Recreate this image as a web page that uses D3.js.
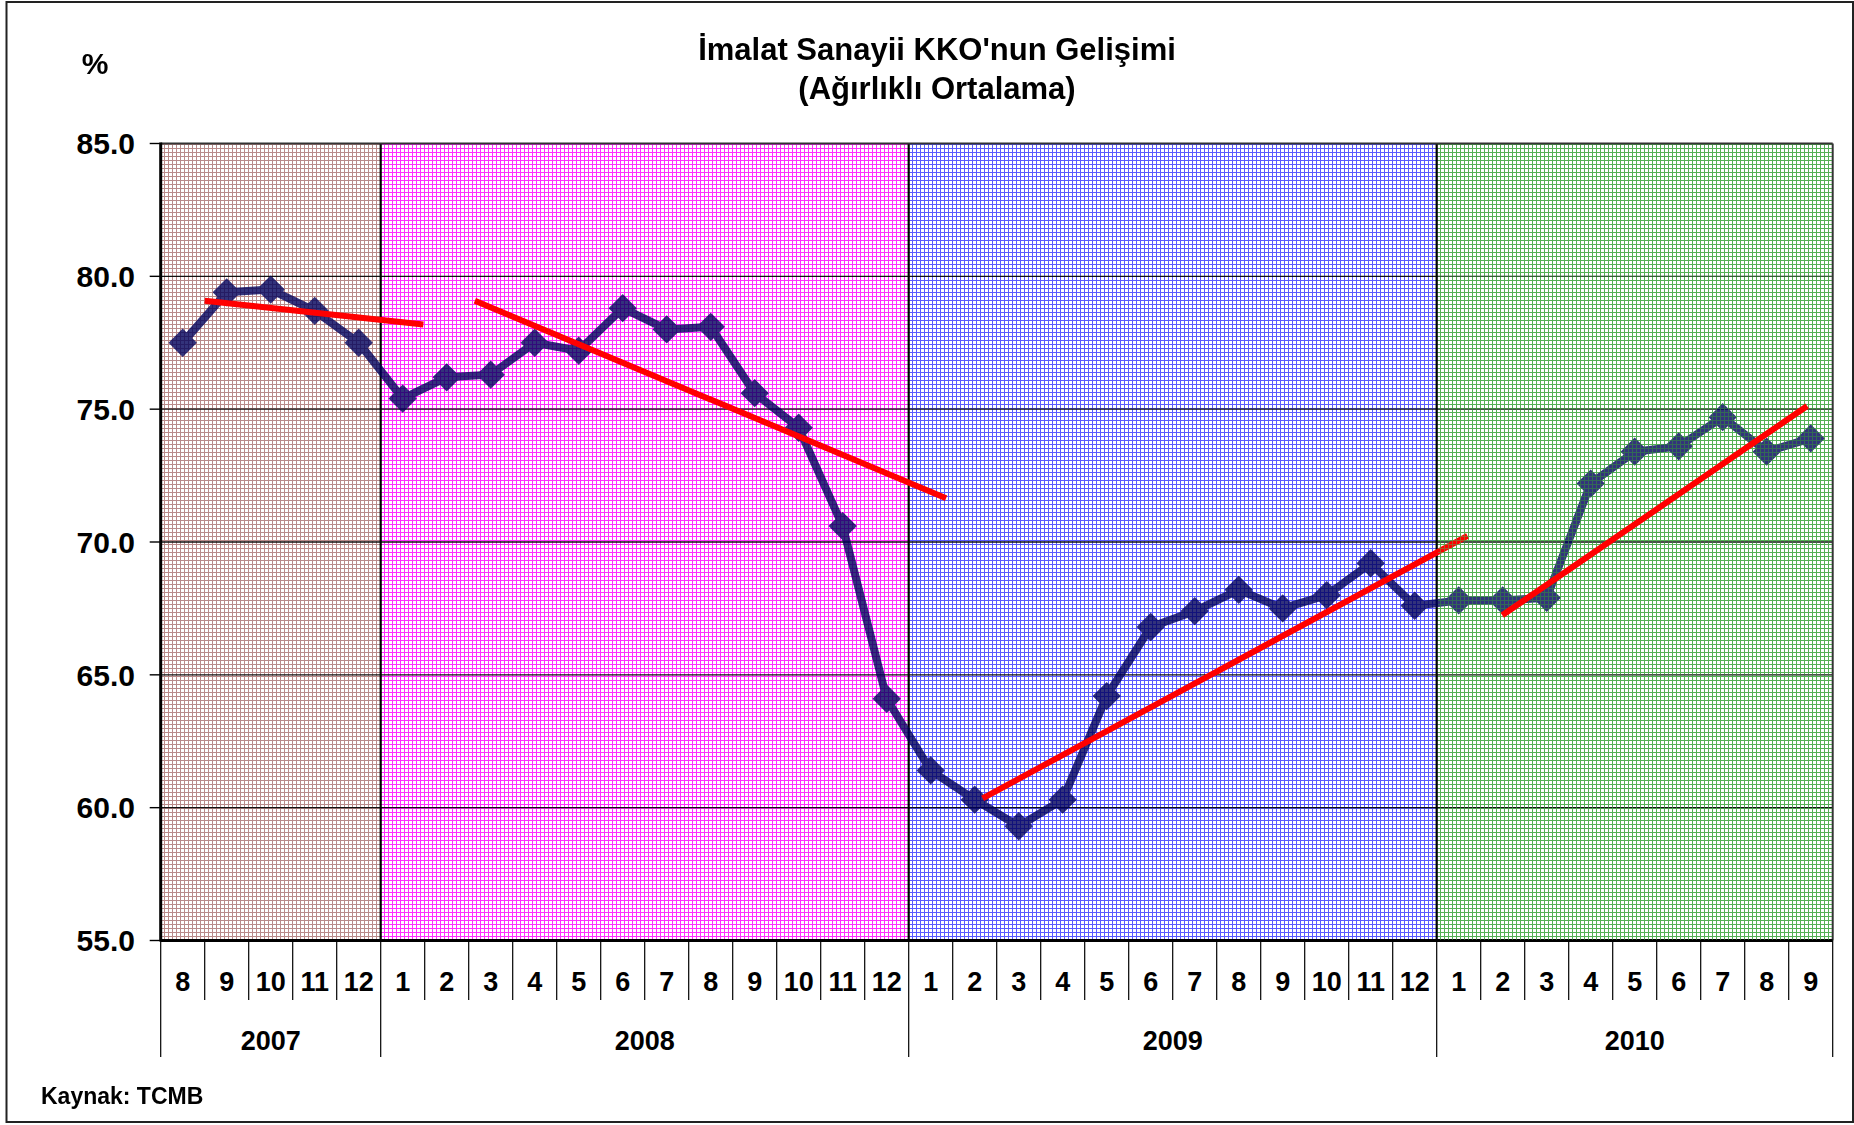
<!DOCTYPE html>
<html><head><meta charset="utf-8">
<script src="https://cdn.jsdelivr.net/npm/d3@7"></script>
<style>
html,body{margin:0;padding:0;background:#fff;}
svg{display:block;}
text{font-family:"Liberation Sans",Arial,Helvetica,sans-serif;font-weight:bold;fill:#000;}
</style></head><body>
<script>
// ---------- DATA ----------
const monthLabels = ["8","9","10","11","12",
  "1","2","3","4","5","6","7","8","9","10","11","12",
  "1","2","3","4","5","6","7","8","9","10","11","12",
  "1","2","3","4","5","6","7","8","9"];
const kkoValues = [77.5,79.4,79.5,78.7,77.5,
  75.4,76.2,76.3,77.5,77.2,78.8,78.0,78.1,75.6,74.3,70.6,64.1,
  61.4,60.3,59.3,60.3,64.2,66.8,67.4,68.2,67.5,68.0,69.2,67.6,
  67.8,67.8,67.9,72.2,73.4,73.6,74.7,73.4,73.9];
const yearLabels = ["2007","2008","2009","2010"];
const yearMonthCounts = [5,12,12,9];
const yTicks = [55,60,65,70,75,80,85];
// trend segments (category index, value)
const trendX0 = [0.5, 6.64, 18.18, 29.99];
const trendY0 = [79.08, 79.08, 60.35, 67.24];
const trendX1 = [5.47, 17.35, 29.2, 36.92];
const trendY1 = [78.19, 71.65, 70.23, 75.12];
const titleLines = ["İmalat Sanayii KKO'nun Gelişimi","(Ağırlıklı Ortalama)"];
const unitLabel = "%";
const sourceLabel = "Kaynak: TCMB";
const regionColors = ["#b98a8a","#ff2eff","#5a5aff","#55b055"];

// ---------- LAYOUT ----------
const W = 1854, H = 1125;
const L = 160.7, R = 1832.7, T = 143.5, B = 940.5;

const svg = d3.select("body").append("svg").attr("width", W).attr("height", H);
const defs = svg.append("defs");

function makePattern(id, color, withBg){
  const p = defs.append("pattern").attr("id", id)
    .attr("patternUnits","userSpaceOnUse").attr("width",4).attr("height",4);
  if (withBg) p.append("rect").attr("width",4).attr("height",4).attr("fill","#fff");
  p.append("rect").attr("x",0).attr("y",0).attr("width",4).attr("height",1).attr("fill",color);
  p.append("rect").attr("x",0).attr("y",0).attr("width",1).attr("height",4).attr("fill",color);
}
regionColors.forEach((c,i)=>{ makePattern("pat"+i, c, true); makePattern("ovl"+i, c, false); });

const n = kkoValues.length;
const x = d3.scaleBand().domain(d3.range(n)).range([L, R]).paddingInner(0).paddingOuter(0);
const bw = x.bandwidth();
const xc = d3.scaleLinear().domain([0, n-1]).range([x(0)+bw/2, x(n-1)+bw/2]);
const y = d3.scaleLinear().domain([55, 85]).range([B, T]);

const starts = [];
yearMonthCounts.reduce((acc,c)=>{ starts.push(acc); return acc + c; }, 0);

// outer border
svg.append("rect").attr("x",6.5).attr("y",2).attr("width",1846.5).attr("height",1120)
  .attr("fill","none").attr("stroke","#222").attr("stroke-width",2);

// regions
const regionG = svg.append("g").attr("shape-rendering","crispEdges");
yearLabels.forEach((yl,i)=>{
  regionG.append("rect")
    .attr("x", L + starts[i]*bw).attr("y", T)
    .attr("width", yearMonthCounts[i]*bw).attr("height", B - T)
    .attr("fill", `url(#pat${i})`);
});

// horizontal gridlines
svg.append("g").selectAll("line").data(yTicks.filter(v=>v>55 && v<85)).join("line")
  .attr("x1", L).attr("x2", R).attr("y1", d=>y(d)).attr("y2", d=>y(d))
  .attr("stroke","#111").attr("stroke-width",1.4);

// year boundaries in plot
svg.append("g").selectAll("line").data(starts.slice(1)).join("line")
  .attr("x1", d=>L + d*bw).attr("x2", d=>L + d*bw).attr("y1", T).attr("y2", B)
  .attr("stroke","#000").attr("stroke-width",2.2);

// plot borders
svg.append("line").attr("x1",L).attr("x2",R).attr("y1",T).attr("y2",T).attr("stroke","#333").attr("stroke-width",2.2);
svg.append("line").attr("x1",R).attr("x2",R).attr("y1",T).attr("y2",B).attr("stroke","#333").attr("stroke-width",2);
svg.append("line").attr("x1",L).attr("x2",L).attr("y1",T-1).attr("y2",B+1).attr("stroke","#000").attr("stroke-width",3);
svg.append("line").attr("x1",L).attr("x2",R).attr("y1",B).attr("y2",B).attr("stroke","#000").attr("stroke-width",3);

// y axis ticks and labels
const yAx = svg.append("g");
yAx.selectAll("line").data(yTicks).join("line")
  .attr("x1", L-11).attr("x2", L).attr("y1", d=>y(d)).attr("y2", d=>y(d))
  .attr("stroke","#000").attr("stroke-width",1.4);
yAx.selectAll("text").data(yTicks).join("text")
  .attr("x", 135).attr("y", d=>y(d)).attr("dy","0.36em")
  .attr("text-anchor","end").attr("font-size",30)
  .text(d=>d3.format(".1f")(d));

// x axis ticks
const boundarySet = new Set([...starts, n]);
svg.append("g").selectAll("line").data(d3.range(n+1)).join("line")
  .attr("x1", d=>L + d*bw).attr("x2", d=>L + d*bw)
  .attr("y1", B).attr("y2", d=>boundarySet.has(d) ? 1057 : 1000)
  .attr("stroke","#000").attr("stroke-width",1.2);
svg.append("g").selectAll("text").data(monthLabels).join("text")
  .attr("x", (d,i)=>x(i)+bw/2).attr("y", 991)
  .attr("text-anchor","middle").attr("font-size",27)
  .text(d=>d);
svg.append("g").selectAll("text").data(yearLabels).join("text")
  .attr("x", (d,i)=>L + (starts[i] + yearMonthCounts[i]/2)*bw).attr("y", 1050)
  .attr("text-anchor","middle").attr("font-size",27)
  .text(d=>d);

// main series
const lineG = svg.append("g").attr("opacity",0.8);
lineG.append("path").datum(kkoValues)
  .attr("d", d3.line().x((d,i)=>xc(i)).y(d=>y(d)))
  .attr("fill","none").attr("stroke","#00005a").attr("stroke-width",8).attr("stroke-linejoin","round");
lineG.selectAll("path.m").data(kkoValues).join("path").attr("class","m")
  .attr("d", d3.symbol(d3.symbolSquare, 400)())
  .attr("transform", (d,i)=>`translate(${xc(i)},${y(d)}) rotate(45)`)
  .attr("fill","#00005a");

// trend lines 2007-2009
function trend(i){
  svg.append("line")
    .attr("x1", xc(trendX0[i])).attr("y1", y(trendY0[i]))
    .attr("x2", xc(trendX1[i])).attr("y2", y(trendY1[i]))
    .attr("stroke","#ff0000").attr("stroke-width",6);
}
trend(0); trend(1); trend(2);
// 2010 pattern overlay (texture over earlier lines)
svg.append("rect").attr("x", L + starts[3]*bw + 1).attr("y", T+1)
  .attr("width", yearMonthCounts[3]*bw - 2).attr("height", B - T - 2)
  .attr("fill","url(#ovl3)").attr("opacity",0.5).attr("shape-rendering","crispEdges");
trend(3);

// titles
svg.append("text").attr("x",937).attr("y",60).attr("text-anchor","middle").attr("font-size",31).text(titleLines[0]);
svg.append("text").attr("x",937).attr("y",98.5).attr("text-anchor","middle").attr("font-size",31).text(titleLines[1]);
svg.append("text").attr("x",95).attr("y",74).attr("text-anchor","middle").attr("font-size",30).text(unitLabel);
svg.append("text").attr("x",41).attr("y",1104).attr("font-size",23).text(sourceLabel);
</script>
</body></html>
